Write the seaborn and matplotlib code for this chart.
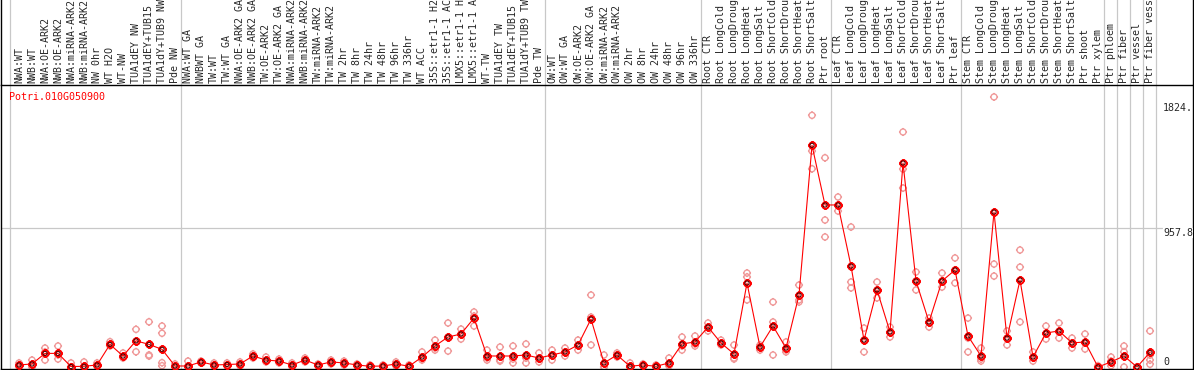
import numpy as np
import pandas as pd
import matplotlib
matplotlib.use("Agg")
import matplotlib.pyplot as plt
import seaborn as sns
from matplotlib.path import Path
from matplotlib.markers import MarkerStyle

# ---------------- data ----------------
gene = "Potri.010G050900"

samples = [
    "NWA:WT", "NWB:WT", "NWA:OE-ARK2", "NWB:OE-ARK2", "NWA:miRNA-ARK2", "NWB:miRNA-ARK2",
    "NW 0hr", "WT H2O", "WT-NW", "TUA1dEY NW", "TUA1dEY+TUB15 NW", "TUA1dY+TUB9 NW", "Pde NW",
    "NWA:WT GA", "NWBWT GA", "TW:WT", "TW:WT GA", "NWA:OE-ARK2 GA", "NWB:OE-ARK2 GA",
    "TW:OE-ARK2", "TW:OE-ARK2 GA", "NWA:miRNA-ARK2 GA", "NWB:miRNA-ARK2 GA", "TW:miRNA-ARK2",
    "TW:miRNA-ARK2 GA", "TW 2hr", "TW 8hr", "TW 24hr", "TW 48hr", "TW 96hr", "TW 336hr",
    "WT ACC", "35S::etr1-1 H2O", "35S::etr1-1 ACC", "LMX5::etr1-1 H2O", "LMX5::etr1-1 ACC",
    "WT-TW", "TUA1dEY TW", "TUA1dEY+TUB15 TW", "TUA1dY+TUB9 TW", "Pde TW",
    "OW:WT", "OW:WT GA", "OW:OE-ARK2", "OW:OE-ARK2 GA", "OW:miRNA-ARK2", "OW:miRNA-ARK2 GA",
    "OW 2hr", "OW 8hr", "OW 24hr", "OW 48hr", "OW 96hr", "OW 336hr",
    "Root CTR", "Root LongCold", "Root LongDrought", "Root LongHeat", "Root LongSalt",
    "Root ShortCold", "Root ShortDrought", "Root ShortHeat", "Root ShortSalt", "Ptr root",
    "Leaf CTR", "Leaf LongCold", "Leaf LongDrought", "Leaf LongHeat", "Leaf LongSalt",
    "Leaf ShortCold", "Leaf ShortDrought", "Leaf ShortHeat", "Leaf ShortSalt", "Ptr leaf",
    "Stem CTR", "Stem LongCold", "Stem LongDrought", "Stem LongHeat", "Stem LongSalt",
    "Stem ShortCold", "Stem ShortDrought", "Stem ShortHeat", "Stem ShortSalt", "Ptr shoot",
    "Ptr xylem", "Ptr phloem", "Ptr fiber", "Ptr vessel", "Ptr fiber vessel",
]

means = [
    14, 21, 94, 94, 3, 5, 14, 156, 76, 181, 156, 122, 7,
    7, 35, 14, 17, 21, 76, 48, 41, 14, 48, 14, 35, 28, 14, 5, 7, 21, 5, 69, 145, 207, 228, 338,
    76, 76, 76, 83, 62,
    83, 104, 152, 331, 28, 83, 5, 14, 5, 28, 159, 173,
    276, 166, 90, 580, 138, 283, 131, 497, 1531, 1119,
    1119, 697, 186, 532, 242, 1409, 594, 311, 594, 670,
    214, 76, 1070, 200, 601, 69, 235, 249, 166, 173,
    0, 35, 76, 0, 101,
]

rep1 = [
    28, 48, 131, 145, 28, 35, 28, 175, 97, 260, 312, 283, 21,
    41, 41, 28, 28, 35, 90, 69, 55, 28, 62, 21, 48, 41, 21, 14, 14, 35, 14, 104, 186, 304, 262,
    380, 117, 138, 145, 159, 97,
    117, 131, 186, 497, 83, 97, 28, 21, 14, 62, 207, 214,
    304, 186, 152, 649, 152, 449, 173, 566, 1738, 1445,
    1174, 967, 269, 587, 276, 1623, 656, 338, 649, 753,
    338, 131, 1865, 249, 808, 104, 283, 304, 200, 228,
    9, 69, 145, 0, 249,
]
rep2 = [
    14, 14, 104, 83, 0, 0, 7, 145, 62, 105, 76, 233, 7,
    7, 35, 14, 14, 21, 76, 41, 41, 14, 48, 14, 35, 28, 14, 0, 7, 21, 0, 55, 131, 207, 228,
    352, 62, 48, 55, 62, 55,
    83, 104, 152, 345, 0, 83, 0, 14, 0, 14, 145, 159,
    276, 159, 62, 622, 138, 311, 117, 463, 1492, 1015,
    1119, 587, 186, 532, 242, 1367, 594, 311, 594, 670,
    200, 55, 711, 200, 690, 62, 228, 242, 166, 166,
    0, 41, 105, 0, 83,
]
rep3 = [
    0, 0, 48, 55, 0, 0, 7, 152, 69, 179, 83, 30, 0,
    0, 28, 7, 7, 7, 62, 35, 28, 0, 35, 7, 21, 14, 7, 0, 0, 7, 0, 48, 117, 110, 193,
    283, 48, 41, 28, 28, 35,
    48, 76, 117, 152, 0, 69, 0, 7, 0, 7, 117, 145,
    249, 152, 55, 463, 117, 83, 104, 449, 1369, 898,
    1077, 546, 104, 477, 207, 1236, 532, 276, 552, 580,
    104, 41, 628, 152, 311, 41, 193, 200, 131, 124,
    0, 9, 0, 0, 48,
]
extra_reps = {"TUA1dY+TUB9 NW": 9, "Ptr fiber vessel": 19}

y_ticks = [0, 957.8, 1824]
y_tick_labels = ["0", "957.8", "1824."]

# ---------------- tidy frames ----------------
pos = np.arange(len(samples))
df_means = pd.DataFrame({"pos": pos, "sample": samples, "value": means})
rows = []
for i, s in enumerate(samples):
    for r in (rep1[i], rep2[i], rep3[i]):
        rows.append((i, s, r))
    if s in extra_reps:
        rows.append((i, s, extra_reps[s]))
df_reps = pd.DataFrame(rows, columns=["pos", "sample", "value"])

# ---------------- style ----------------
sns.set_style("white")
plt.rcParams["font.family"] = ["DejaVu Sans Mono"]
FS = 7.2
RED = "#ff0000"
PINK = "#f09a9a"
GREY = "#c8c8c8"

# circle marker with small outside ticks
circ = Path.unit_circle()
verts = list(circ.vertices)
codes = list(circ.codes)
for dx, dy in [(1, 0), (-1, 0), (0, 1), (0, -1)]:
    verts += [(dx * 1.0, dy * 1.0), (dx * 1.35, dy * 1.35)]
    codes += [Path.MOVETO, Path.LINETO]
tick_circle = Path(verts, codes)

W, H = 1194, 370
fig = plt.figure(figsize=(W / 100, H / 100), dpi=100)
ax = fig.add_axes([1 / W, 1 / H, 1192 / W, 284 / H])

ax.set_xlim(-1.3846, 90.3077)
ax.set_ylim(-13.8, 1947.5)

# grid / separators
top_ext = 369 / 284 + 0.01
for xb in [-0.69, 12.5, 40.5, 52.5, 62.5, 72.5, 83.5, 84.5, 85.5, 86.5, 87.5]:
    ax.axvline(xb, ymin=0, ymax=top_ext, color=GREY, lw=0.9, clip_on=False, zorder=0)
ax.axhline(y_ticks[1], xmin=0, xmax=(1162 - 1) / 1192, color=GREY, lw=0.9, zorder=0)

# replicates
sns.scatterplot(data=df_reps, x="pos", y="value", marker=MarkerStyle(tick_circle),
                s=34, ax=ax, legend=False, zorder=2)
coll = ax.collections[-1]
coll.set_facecolor("none")
coll.set_edgecolor(PINK)
coll.set_linewidth(1.0)

# mean line and markers
sns.lineplot(data=df_means, x="pos", y="value", color=RED, lw=0.8, errorbar=None,
             marker=MarkerStyle(tick_circle), ms=6.2, mfc="none", mec=RED, mew=1.4,
             ax=ax, zorder=3)
sns.scatterplot(data=df_means, x="pos", y="value", marker="o", s=9, ax=ax,
                legend=False, zorder=4)
coll2 = ax.collections[-1]
coll2.set_facecolor("none")
coll2.set_edgecolor("#400000")
coll2.set_linewidth(0.7)

# axes cosmetics
for sp in ax.spines.values():
    sp.set_color("black")
    sp.set_linewidth(1.0)
ax.set_xlabel("")
ax.set_ylabel("")
ax.set_yticks([])
ax.xaxis.tick_top()
ax.set_xticks(pos)
ax.set_xticklabels(samples, rotation=90, fontsize=FS, va="bottom", ha="center")
ax.tick_params(axis="x", length=0, pad=1.4)

for xb in ax.get_xlim():
    ax.axvline(xb, ymin=1, ymax=top_ext, color="black", lw=1.0, clip_on=False)

# value labels on the right
xl = 88.0
ax.text(xl, y_ticks[2], y_tick_labels[2], fontsize=FS, va="top", ha="left")
ax.text(xl, y_ticks[1], y_tick_labels[1], fontsize=FS, va="top", ha="left",
        bbox=dict(facecolor="white", edgecolor="none", pad=0))
ax.text(xl, y_ticks[0], y_tick_labels[0], fontsize=FS, va="bottom", ha="left")

ax.text(8 / 1192, 0.956, gene, transform=ax.transAxes, color=RED, fontsize=FS,
        va="center", ha="left")

fig.savefig("out.png", dpi=100)
